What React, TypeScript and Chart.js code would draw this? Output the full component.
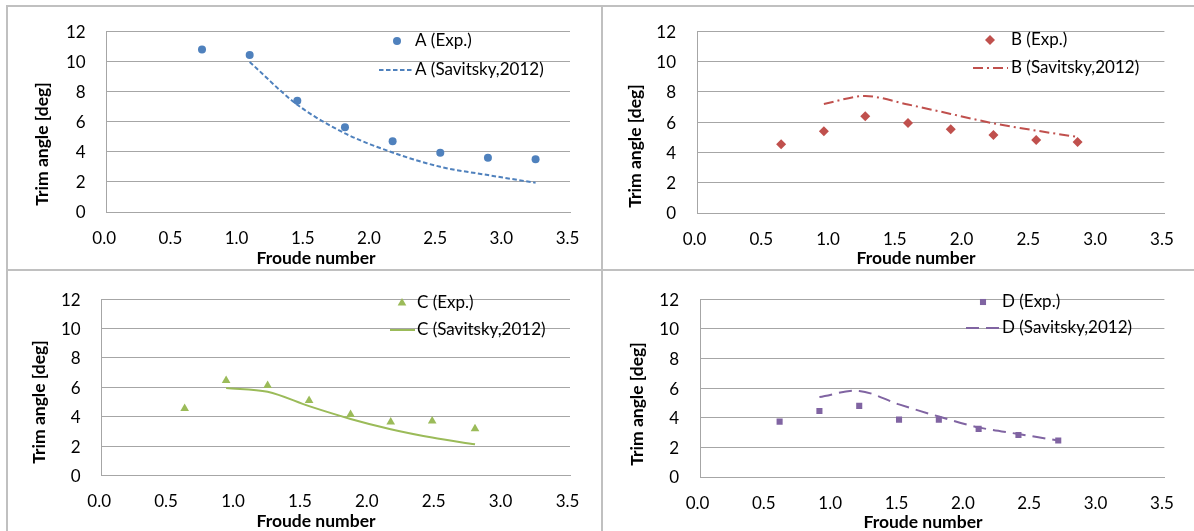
import React, { useEffect, useRef } from "react";
import { Chart, registerables } from "chart.js";

Chart.register(...registerables);

// ---- data -------------------------------------------------------------
const xTickValues = [0, 0.5, 1.0, 1.5, 2.0, 2.5, 3.0, 3.5];
const yTickValues = [0, 2, 4, 6, 8, 10, 12];

const froudeExpA = [0.72, 1.08, 1.44, 1.8, 2.16, 2.52, 2.88, 3.24];
const trimExpA = [10.79, 10.42, 7.38, 5.63, 4.69, 3.94, 3.6, 3.5];
const froudeSavA = [1.08, 1.44, 1.8, 2.16, 2.52, 2.88, 3.24];
const trimSavA = [9.96, 7.12, 5.22, 3.95, 3.0, 2.45, 1.94];

const froudeExpB = [0.63, 0.95, 1.26, 1.58, 1.9, 2.22, 2.54, 2.85];
const trimExpB = [4.53, 5.4, 6.39, 5.94, 5.52, 5.15, 4.82, 4.69];
const froudeSavB = [0.95, 1.26, 1.58, 1.9, 2.22, 2.54, 2.85];
const trimSavB = [7.2, 7.72, 7.16, 6.54, 5.92, 5.44, 5.02];

const froudeExpC = [0.62, 0.93, 1.24, 1.55, 1.86, 2.16, 2.47, 2.79];
const trimExpC = [4.56, 6.47, 6.13, 5.1, 4.15, 3.65, 3.71, 3.19];
const froudeSavC = [0.93, 1.24, 1.55, 1.86, 2.16, 2.47, 2.79];
const trimSavC = [5.95, 5.7, 4.72, 3.85, 3.15, 2.58, 2.12];

const froudeExpD = [0.6, 0.9, 1.2, 1.5, 1.8, 2.1, 2.4, 2.7];
const trimExpD = [3.74, 4.45, 4.8, 3.87, 3.87, 3.25, 2.83, 2.46];
const froudeSavD = [0.9, 1.2, 1.5, 1.8, 2.1, 2.4, 2.7];
const trimSavD = [5.4, 5.81, 4.9, 4.08, 3.35, 2.9, 2.46];

const xTitle = "Froude number";
const yTitle = "Trim angle [deg]";

// ---- styling / layout -------------------------------------------------
const FONT = "Lato, 'Open Sans', sans-serif";
const GRID = "#a6a6a6";
const FRAME = "#c0c0c0";

type Marker = "circle" | "rectRot" | "triangle" | "rect";

type Panel = {
  expLabel: string;
  savLabel: string;
  color: string;
  marker: Marker;
  markerRadius: number;
  dash: number[];
  expX: number[];
  expY: number[];
  savX: number[];
  savY: number[];
  box: { left: number; top: number; width: number; height: number };
  plot: { left: number; top: number; right: number; bottom: number };
  yTitlePos: [number, number];
  xTitlePos: [number, number];
  legend: { markerX: number; row1: number; row2: number; textX: number; lineX0: number; lineX1: number };
};

const panels: Panel[] = [
  {
    expLabel: "A (Exp.)",
    savLabel: "A (Savitsky,2012)",
    color: "#4F81BD",
    marker: "circle",
    markerRadius: 4,
    dash: [4.5, 2.5],
    expX: froudeExpA,
    expY: trimExpA,
    savX: froudeSavA,
    savY: trimSavA,
    box: { left: 0, top: 0, width: 600, height: 268 },
    plot: { left: 106.7, top: 20.7, right: 570, bottom: 212 },
    yTitlePos: [42, 144],
    xTitlePos: [316, 258],
    legend: { markerX: 397, row1: 41, row2: 70, textX: 415, lineX0: 379, lineX1: 414 },
  },
  {
    expLabel: "B (Exp.)",
    savLabel: "B (Savitsky,2012)",
    color: "#C0504D",
    marker: "rectRot",
    markerRadius: 5,
    dash: [10, 4, 2, 4],
    expX: froudeExpB,
    expY: trimExpB,
    savX: froudeSavB,
    savY: trimSavB,
    box: { left: 597, top: 0, width: 597, height: 268 },
    plot: { left: 697, top: 20.7, right: 1164.4, bottom: 213 },
    yTitlePos: [635, 146],
    xTitlePos: [916, 258],
    legend: { markerX: 990, row1: 40, row2: 68, textX: 1011, lineX0: 973, lineX1: 1008 },
  },
  {
    expLabel: "C (Exp.)",
    savLabel: "C (Savitsky,2012)",
    color: "#9BBB59",
    marker: "triangle",
    markerRadius: 5,
    dash: [],
    expX: froudeExpC,
    expY: trimExpC,
    savX: froudeSavC,
    savY: trimSavC,
    box: { left: 0, top: 268, width: 600, height: 263 },
    plot: { left: 101.7, top: 283.3, right: 570, bottom: 475.5 },
    yTitlePos: [39, 402],
    xTitlePos: [316, 521],
    legend: { markerX: 402, row1: 303, row2: 330, textX: 417, lineX0: 390, lineX1: 415 },
  },
  {
    expLabel: "D (Exp.)",
    savLabel: "D (Savitsky,2012)",
    color: "#8064A2",
    marker: "rect",
    markerRadius: 4.3,
    dash: [13, 7],
    expX: froudeExpD,
    expY: trimExpD,
    savX: froudeSavD,
    savY: trimSavD,
    box: { left: 597, top: 268, width: 597, height: 263 },
    plot: { left: 700, top: 284, right: 1164.4, bottom: 477 },
    yTitlePos: [637, 404],
    xTitlePos: [923, 522],
    legend: { markerX: 983, row1: 302, row2: 328, textX: 1002, lineX0: 966, lineX1: 1000 },
  },
];

// Same marker geometry as Chart.js point styles
function drawMarker(ctx: CanvasRenderingContext2D, style: Marker, x: number, y: number, r: number) {
  ctx.beginPath();
  if (style === "circle") {
    ctx.arc(x, y, r, 0, Math.PI * 2);
  } else if (style === "rectRot") {
    ctx.moveTo(x, y - r);
    ctx.lineTo(x + r, y);
    ctx.lineTo(x, y + r);
    ctx.lineTo(x - r, y);
  } else if (style === "triangle") {
    for (let i = 0; i < 3; i++) {
      const a = (i * 2 * Math.PI) / 3;
      const px = x + Math.sin(a) * r;
      const py = y - Math.cos(a) * r;
      if (i === 0) ctx.moveTo(px, py);
      else ctx.lineTo(px, py);
    }
  } else {
    const s = Math.SQRT1_2 * r;
    ctx.rect(x - s, y - s, 2 * s, 2 * s);
  }
  ctx.closePath();
  ctx.fill();
}

function overlayPlugin(p: Panel) {
  return {
    id: "panelOverlay",
    afterDraw(chart: Chart) {
      const ctx = chart.ctx;
      const ox = p.box.left;
      const oy = p.box.top;
      ctx.save();
      ctx.fillStyle = "#000";
      // axis titles
      ctx.font = `bold 17.5px ${FONT}`;
      ctx.textAlign = "center";
      ctx.textBaseline = "middle";
      ctx.fillText(xTitle, p.xTitlePos[0] - ox, p.xTitlePos[1] - oy);
      ctx.save();
      ctx.translate(p.yTitlePos[0] - ox, p.yTitlePos[1] - oy);
      ctx.rotate(-Math.PI / 2);
      ctx.fillText(yTitle, 0, 0);
      ctx.restore();

      // legend
      const lg = p.legend;
      ctx.font = `17px ${FONT}`;
      ctx.textAlign = "left";
      ctx.fillText(p.expLabel, lg.textX - ox, lg.row1 - oy);
      ctx.fillText(p.savLabel, lg.textX - ox, lg.row2 - oy);
      ctx.fillStyle = p.color;
      drawMarker(ctx, p.marker, lg.markerX - ox, lg.row1 - oy, p.markerRadius);
      ctx.strokeStyle = p.color;
      ctx.lineWidth = 2;
      ctx.setLineDash(p.dash);
      ctx.beginPath();
      ctx.moveTo(lg.lineX0 - ox, lg.row2 - oy);
      ctx.lineTo(lg.lineX1 - ox, lg.row2 - oy);
      ctx.stroke();
      ctx.restore();
    },
  };
}

function PanelChart({ p }: { p: Panel }) {
  const ref = useRef<HTMLCanvasElement | null>(null);

  useEffect(() => {
    if (!ref.current) return;
    const tickFont = { family: FONT, size: 17 };
    const chart = new Chart(ref.current, {
      type: "scatter",
      data: {
        datasets: [
          {
            label: p.expLabel,
            data: p.expX.map((x, i) => ({ x, y: p.expY[i] })),
            showLine: false,
            pointStyle: p.marker,
            pointRadius: p.markerRadius,
            pointBackgroundColor: p.color,
            pointBorderColor: p.color,
            pointBorderWidth: 0,
            order: 1,
          },
          {
            label: p.savLabel,
            data: p.savX.map((x, i) => ({ x, y: p.savY[i] })),
            showLine: true,
            borderColor: p.color,
            borderWidth: 2,
            borderDash: p.dash,
            tension: 0.33,
            pointRadius: 0,
            fill: false,
            order: 0,
          },
        ],
      },
      options: {
        responsive: false,
        animation: false,
        devicePixelRatio: 1,
        events: [],
        layout: {
          padding: {
            left: 0,
            top: p.plot.top - p.box.top,
            right: p.box.left + p.box.width - p.plot.right,
            bottom: 0,
          },
        },
        plugins: { legend: { display: false }, tooltip: { enabled: false } },
        scales: {
          x: {
            type: "linear",
            min: 0,
            max: 3.5,
            afterBuildTicks: (scale: any) => {
              scale.ticks = xTickValues.map((v) => ({ value: v }));
            },
            afterFit: (scale: any) => {
              scale.height = p.box.top + p.box.height - p.plot.bottom;
            },
            grid: { display: false, drawTicks: false },
            border: { display: true, color: GRID, width: 1 },
            ticks: {
              autoSkip: false,
              maxRotation: 0,
              padding: 16,
              labelOffset: -2.5,
              color: "#000",
              font: tickFont,
              callback: (v: any) => Number(v).toFixed(1),
            },
          },
          y: {
            type: "linear",
            min: 0,
            max: 12,
            afterBuildTicks: (scale: any) => {
              scale.ticks = yTickValues.map((v) => ({ value: v }));
            },
            afterFit: (scale: any) => {
              scale.width = p.plot.left - p.box.left;
            },
            grid: { color: GRID, lineWidth: 1, drawTicks: false },
            border: { display: true, color: GRID, width: 1 },
            ticks: {
              padding: 21,
              labelOffset: 1,
              color: "#000",
              font: tickFont,
              callback: (v: any) => String(v),
            },
          },
        },
      },
      plugins: [overlayPlugin(p)],
    } as any);
    return () => chart.destroy();
  }, [p]);

  return (
    <canvas
      ref={ref}
      width={p.box.width}
      height={p.box.height}
      style={{
        position: "absolute",
        left: p.box.left,
        top: p.box.top,
        width: p.box.width,
        height: p.box.height,
      }}
    />
  );
}

export default function App() {
  const line = (style: React.CSSProperties) => (
    <div style={{ position: "absolute", background: FRAME, ...style }} />
  );
  return (
    <div
      style={{
        position: "fixed",
        left: 0,
        top: 0,
        width: 1194,
        height: 531,
        background: "#fff",
        overflow: "hidden",
      }}
    >
      {panels.map((p, i) => (
        <PanelChart key={i} p={p} />
      ))}
      {line({ left: 6, top: 5, width: 1188, height: 2 })}
      {line({ left: 6, top: 5, width: 2, height: 526 })}
      {line({ left: 601, top: 5, width: 2, height: 526 })}
      {line({ left: 6, top: 269, width: 1188, height: 2 })}
    </div>
  );
}
